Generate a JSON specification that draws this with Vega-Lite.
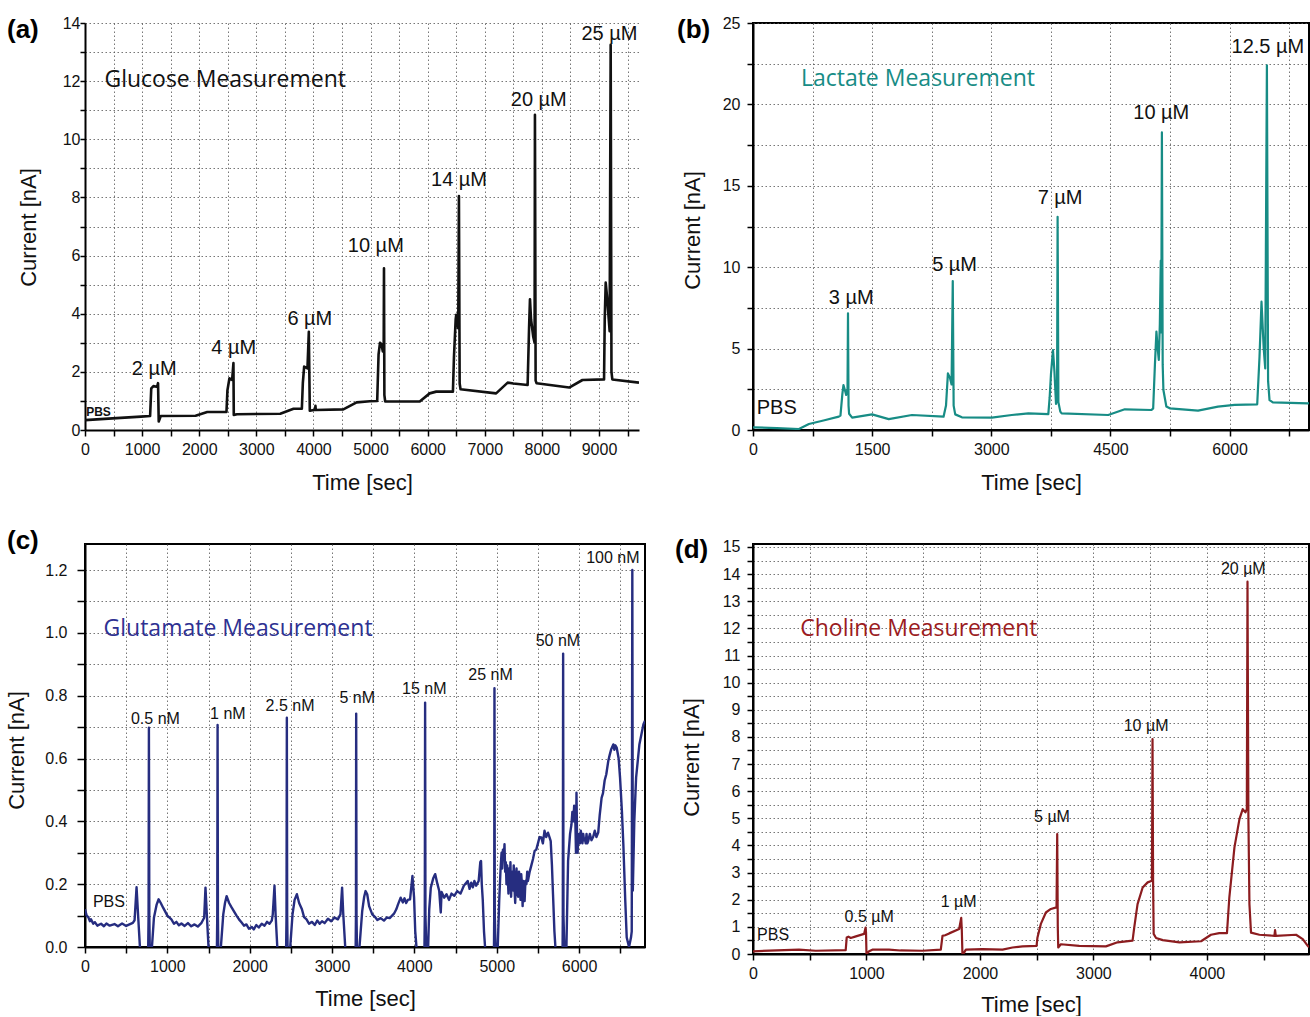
{
 "$schema": "https://vega.github.io/schema/vega-lite/v6.json",
 "padding": {"left": 4, "top": 14, "right": 0, "bottom": 0},
 "background": "#ffffff",
 "columns": 2,
 "bounds": "flush",
 "align": "all",
 "spacing": {"row": 111, "column": 108},
 "datasets": {
  "glucose": [
   {"t":0,"v":0.34},{"t":480,"v":0.40},{"t":980,"v":0.46},{"t":1140,"v":0.48},{"t":1160,"v":1.43},{"t":1198,"v":1.51},{"t":1256,"v":1.49},{"t":1270,"v":1.55},{"t":1279,"v":1.61},{"t":1291,"v":0.29},{"t":1326,"v":0.48},{"t":1936,"v":0.49},{"t":2140,"v":0.62},{"t":2477,"v":0.62},{"t":2494,"v":1.37},{"t":2529,"v":1.78},{"t":2576,"v":1.72},{"t":2599,"v":2.30},{"t":2605,"v":0.52},{"t":2663,"v":0.54},{"t":3419,"v":0.56},{"t":3651,"v":0.73},{"t":3797,"v":0.73},{"t":3814,"v":1.61},{"t":3837,"v":2.18},{"t":3895,"v":2.12},{"t":3919,"v":3.38},{"t":3936,"v":0.66},{"t":4030,"v":0.70},{"t":4035,"v":0.83},{"t":4040,"v":0.69},{"t":4523,"v":0.71},{"t":4756,"v":0.95},{"t":4988,"v":0.99},{"t":5116,"v":1.0},{"t":5140,"v":2.6},{"t":5165,"v":3.0},{"t":5190,"v":2.95},{"t":5215,"v":2.7},{"t":5230,"v":2.9},{"t":5235,"v":5.56},{"t":5242,"v":1.2},{"t":5256,"v":0.98},{"t":5861,"v":0.98},{"t":6035,"v":1.26},{"t":6150,"v":1.32},{"t":6442,"v":1.32},{"t":6460,"v":2.5},{"t":6490,"v":3.8},{"t":6500,"v":3.96},{"t":6520,"v":3.7},{"t":6535,"v":3.5},{"t":6547,"v":8.05},{"t":6560,"v":1.6},{"t":6575,"v":1.40},{"t":7198,"v":1.26},{"t":7401,"v":1.63},{"t":7500,"v":1.6},{"t":7750,"v":1.55},{"t":7775,"v":3.5},{"t":7791,"v":4.5},{"t":7810,"v":3.8},{"t":7849,"v":3.2},{"t":7872,"v":3.0},{"t":7878,"v":10.84},{"t":7890,"v":1.7},{"t":7907,"v":1.61},{"t":8477,"v":1.46},{"t":8710,"v":1.72},{"t":9088,"v":1.74},{"t":9100,"v":3.8},{"t":9117,"v":5.07},{"t":9140,"v":4.6},{"t":9186,"v":3.4},{"t":9204,"v":13.25},{"t":9218,"v":2.0},{"t":9233,"v":1.74},{"t":9700,"v":1.63}
  ],
  "glucoseLabels": [
   {"label":"2 µM","t":1212,"v":1.89},{"label":"4 µM","t":2605,"v":2.62},{"label":"6 µM","t":3937,"v":3.61},{"label":"10 µM","t":5092,"v":6.14},{"label":"14 µM","t":6549,"v":8.4},{"label":"20 µM","t":7945,"v":11.15},{"label":"25 µM","t":9183,"v":13.4}
  ],
  "glucosePBS": [{"label":"PBS","t":236,"v":0.48}],
  "glucoseName": [{"label":"Glucose Measurement","t":340,"v":11.8}],
  "lactate": [
   {"t":0,"v":0.16},{"t":300,"v":0.12},{"t":578,"v":0.06},{"t":704,"v":0.37},{"t":900,"v":0.6},{"t":1080,"v":0.82},{"t":1101,"v":0.88},{"t":1125,"v":2.2},{"t":1139,"v":2.76},{"t":1160,"v":2.4},{"t":1173,"v":2.15},{"t":1190,"v":2.5},{"t":1196,"v":7.17},{"t":1203,"v":1.5},{"t":1210,"v":1.0},{"t":1248,"v":0.76},{"t":1499,"v":0.96},{"t":1709,"v":0.67},{"t":2001,"v":0.92},{"t":2399,"v":0.82},{"t":2430,"v":1.5},{"t":2454,"v":3.48},{"t":2480,"v":3.2},{"t":2500,"v":2.8},{"t":2515,"v":9.15},{"t":2526,"v":1.5},{"t":2546,"v":0.96},{"t":2630,"v":0.78},{"t":3007,"v":0.76},{"t":3258,"v":0.92},{"t":3467,"v":1.02},{"t":3718,"v":0.98},{"t":3735,"v":2.0},{"t":3752,"v":3.48},{"t":3777,"v":4.91},{"t":3795,"v":3.6},{"t":3815,"v":1.6},{"t":3828,"v":2.0},{"t":3835,"v":13.1},{"t":3845,"v":1.7},{"t":3869,"v":1.13},{"t":3886,"v":1.02},{"t":4472,"v":0.92},{"t":4681,"v":1.27},{"t":5017,"v":1.23},{"t":5038,"v":1.33},{"t":5060,"v":4.0},{"t":5079,"v":6.04},{"t":5095,"v":5.0},{"t":5109,"v":4.3},{"t":5122,"v":6.5},{"t":5134,"v":10.4},{"t":5140,"v":6.0},{"t":5148,"v":18.28},{"t":5158,"v":4.0},{"t":5167,"v":2.46},{"t":5204,"v":1.44},{"t":5247,"v":1.33},{"t":5603,"v":1.19},{"t":5854,"v":1.44},{"t":6063,"v":1.54},{"t":6348,"v":1.58},{"t":6377,"v":4.5},{"t":6402,"v":7.88},{"t":6430,"v":5.0},{"t":6449,"v":3.78},{"t":6470,"v":22.4},{"t":6485,"v":3.0},{"t":6503,"v":1.84},{"t":6545,"v":1.7},{"t":6985,"v":1.64},{"t":7000,"v":1.65}
  ],
  "lactateLabels": [
   {"label":"3 µM","t":1236,"v":7.74},{"label":"5 µM","t":2538,"v":9.79},{"label":"7 µM","t":3866,"v":13.88},{"label":"10 µM","t":5140,"v":19.1},{"label":"12.5 µM","t":6482,"v":23.14},{"label":"PBS","t":299,"v":0.96}
  ],
  "lactateName": [{"label":"Lactate Measurement","t":603,"v":21.13}],
  "glutamate": [
   {"t":0,"v":0.12},{"t":20,"v":0.1},{"t":40,"v":0.095},{"t":60,"v":0.082},{"t":73,"v":0.088},{"t":100,"v":0.074},{"t":120,"v":0.079},{"t":150,"v":0.068},{"t":195,"v":0.074},{"t":230,"v":0.066},{"t":260,"v":0.075},{"t":300,"v":0.068},{"t":358,"v":0.073},{"t":400,"v":0.066},{"t":450,"v":0.075},{"t":500,"v":0.067},{"t":540,"v":0.072},{"t":581,"v":0.077},{"t":602,"v":0.085},{"t":626,"v":0.19},{"t":645,"v":0.1},{"t":667,"v":0.0},{"t":690,"v":-0.05},{"t":765,"v":-0.05},{"t":772,"v":0.1},{"t":776,"v":0.698},{"t":781,"v":0.1},{"t":789,"v":-0.05},{"t":805,"v":-0.02},{"t":813,"v":0.0},{"t":837,"v":0.093},{"t":870,"v":0.135},{"t":894,"v":0.152},{"t":920,"v":0.14},{"t":947,"v":0.126},{"t":1000,"v":0.1},{"t":1049,"v":0.088},{"t":1080,"v":0.074},{"t":1110,"v":0.08},{"t":1140,"v":0.069},{"t":1171,"v":0.075},{"t":1210,"v":0.067},{"t":1250,"v":0.076},{"t":1290,"v":0.066},{"t":1330,"v":0.072},{"t":1370,"v":0.065},{"t":1415,"v":0.077},{"t":1447,"v":0.093},{"t":1463,"v":0.189},{"t":1480,"v":0.1},{"t":1500,"v":0.0},{"t":1520,"v":-0.05},{"t":1600,"v":-0.05},{"t":1606,"v":0.1},{"t":1610,"v":0.707},{"t":1614,"v":0.1},{"t":1620,"v":-0.05},{"t":1640,"v":-0.02},{"t":1650,"v":0.0},{"t":1679,"v":0.104},{"t":1700,"v":0.14},{"t":1720,"v":0.162},{"t":1750,"v":0.14},{"t":1780,"v":0.126},{"t":1840,"v":0.1},{"t":1870,"v":0.088},{"t":1902,"v":0.078},{"t":1930,"v":0.068},{"t":1960,"v":0.072},{"t":1990,"v":0.058},{"t":2024,"v":0.064},{"t":2050,"v":0.056},{"t":2080,"v":0.07},{"t":2110,"v":0.062},{"t":2146,"v":0.074},{"t":2180,"v":0.068},{"t":2210,"v":0.08},{"t":2240,"v":0.074},{"t":2268,"v":0.084},{"t":2280,"v":0.104},{"t":2301,"v":0.195},{"t":2315,"v":0.1},{"t":2335,"v":0.0},{"t":2350,"v":-0.05},{"t":2440,"v":-0.05},{"t":2447,"v":0.1},{"t":2451,"v":0.73},{"t":2455,"v":0.1},{"t":2462,"v":-0.05},{"t":2485,"v":-0.02},{"t":2492,"v":0.0},{"t":2520,"v":0.104},{"t":2545,"v":0.15},{"t":2573,"v":0.168},{"t":2600,"v":0.14},{"t":2634,"v":0.12},{"t":2660,"v":0.095},{"t":2690,"v":0.088},{"t":2720,"v":0.074},{"t":2756,"v":0.08},{"t":2790,"v":0.07},{"t":2820,"v":0.084},{"t":2850,"v":0.074},{"t":2878,"v":0.082},{"t":2910,"v":0.076},{"t":2950,"v":0.09},{"t":2990,"v":0.082},{"t":3030,"v":0.094},{"t":3070,"v":0.088},{"t":3102,"v":0.104},{"t":3122,"v":0.189},{"t":3135,"v":0.11},{"t":3160,"v":0.0},{"t":3175,"v":-0.05},{"t":3285,"v":-0.05},{"t":3290,"v":0.1},{"t":3293,"v":0.743},{"t":3297,"v":0.1},{"t":3305,"v":-0.05},{"t":3325,"v":-0.02},{"t":3333,"v":0.0},{"t":3366,"v":0.114},{"t":3390,"v":0.16},{"t":3407,"v":0.178},{"t":3427,"v":0.168},{"t":3450,"v":0.13},{"t":3488,"v":0.104},{"t":3520,"v":0.096},{"t":3550,"v":0.086},{"t":3590,"v":0.092},{"t":3630,"v":0.084},{"t":3665,"v":0.094},{"t":3700,"v":0.092},{"t":3752,"v":0.106},{"t":3780,"v":0.12},{"t":3800,"v":0.135},{"t":3833,"v":0.157},{"t":3860,"v":0.142},{"t":3880,"v":0.155},{"t":3900,"v":0.14},{"t":3920,"v":0.15},{"t":3947,"v":0.152},{"t":3976,"v":0.226},{"t":3996,"v":0.157},{"t":4010,"v":0.05},{"t":4025,"v":0.0},{"t":4040,"v":-0.05},{"t":4120,"v":-0.05},{"t":4126,"v":0.1},{"t":4130,"v":0.778},{"t":4134,"v":0.1},{"t":4150,"v":-0.05},{"t":4160,"v":-0.02},{"t":4167,"v":0.0},{"t":4180,"v":0.12},{"t":4199,"v":0.189},{"t":4230,"v":0.22},{"t":4252,"v":0.232},{"t":4280,"v":0.2},{"t":4301,"v":0.179},{"t":4320,"v":0.11},{"t":4330,"v":0.175},{"t":4362,"v":0.157},{"t":4390,"v":0.168},{"t":4420,"v":0.15},{"t":4450,"v":0.17},{"t":4484,"v":0.163},{"t":4520,"v":0.178},{"t":4560,"v":0.17},{"t":4600,"v":0.195},{"t":4647,"v":0.21},{"t":4670,"v":0.185},{"t":4690,"v":0.205},{"t":4710,"v":0.19},{"t":4728,"v":0.21},{"t":4750,"v":0.195},{"t":4780,"v":0.21},{"t":4800,"v":0.27},{"t":4809,"v":0.274},{"t":4818,"v":0.2},{"t":4830,"v":0.15},{"t":4845,"v":0.05},{"t":4858,"v":0.0},{"t":4870,"v":-0.05},{"t":4965,"v":-0.05},{"t":4969,"v":0.1},{"t":4972,"v":0.824},{"t":4976,"v":0.1},{"t":4990,"v":-0.05},{"t":5005,"v":-0.02},{"t":5012,"v":0.0},{"t":5030,"v":0.15},{"t":5045,"v":0.242},{"t":5058,"v":0.3},{"t":5066,"v":0.25},{"t":5075,"v":0.31},{"t":5085,"v":0.28},{"t":5094,"v":0.327},{"t":5102,"v":0.24},{"t":5110,"v":0.27},{"t":5118,"v":0.2},{"t":5126,"v":0.26},{"t":5134,"v":0.222},{"t":5142,"v":0.17},{"t":5150,"v":0.25},{"t":5158,"v":0.19},{"t":5166,"v":0.27},{"t":5174,"v":0.16},{"t":5182,"v":0.23},{"t":5190,"v":0.24},{"t":5198,"v":0.18},{"t":5206,"v":0.26},{"t":5215,"v":0.189},{"t":5224,"v":0.14},{"t":5232,"v":0.22},{"t":5240,"v":0.25},{"t":5250,"v":0.17},{"t":5260,"v":0.16},{"t":5270,"v":0.24},{"t":5280,"v":0.22},{"t":5288,"v":0.15},{"t":5297,"v":0.232},{"t":5306,"v":0.2},{"t":5314,"v":0.13},{"t":5322,"v":0.21},{"t":5330,"v":0.19},{"t":5338,"v":0.146},{"t":5348,"v":0.21},{"t":5360,"v":0.2},{"t":5370,"v":0.24},{"t":5378,"v":0.21},{"t":5400,"v":0.24},{"t":5420,"v":0.26},{"t":5440,"v":0.28},{"t":5460,"v":0.306},{"t":5480,"v":0.31},{"t":5500,"v":0.33},{"t":5520,"v":0.35},{"t":5541,"v":0.349},{"t":5560,"v":0.33},{"t":5580,"v":0.37},{"t":5600,"v":0.35},{"t":5622,"v":0.364},{"t":5640,"v":0.35},{"t":5655,"v":0.337},{"t":5670,"v":0.26},{"t":5683,"v":0.168},{"t":5700,"v":0.05},{"t":5712,"v":0.0},{"t":5730,"v":-0.05},{"t":5798,"v":-0.05},{"t":5802,"v":0.1},{"t":5806,"v":0.934},{"t":5810,"v":0.1},{"t":5825,"v":-0.05},{"t":5840,"v":-0.02},{"t":5846,"v":0.0},{"t":5866,"v":0.274},{"t":5890,"v":0.36},{"t":5907,"v":0.39},{"t":5918,"v":0.43},{"t":5930,"v":0.40},{"t":5940,"v":0.45},{"t":5947,"v":0.433},{"t":5955,"v":0.39},{"t":5962,"v":0.3},{"t":5968,"v":0.491},{"t":5975,"v":0.35},{"t":5982,"v":0.3},{"t":5988,"v":0.337},{"t":6000,"v":0.36},{"t":6010,"v":0.33},{"t":6020,"v":0.37},{"t":6029,"v":0.358},{"t":6040,"v":0.33},{"t":6050,"v":0.36},{"t":6060,"v":0.34},{"t":6070,"v":0.345},{"t":6080,"v":0.33},{"t":6090,"v":0.36},{"t":6100,"v":0.33},{"t":6110,"v":0.337},{"t":6130,"v":0.36},{"t":6150,"v":0.34},{"t":6170,"v":0.35},{"t":6190,"v":0.37},{"t":6210,"v":0.35},{"t":6232,"v":0.364},{"t":6250,"v":0.42},{"t":6273,"v":0.475},{"t":6290,"v":0.49},{"t":6310,"v":0.53},{"t":6330,"v":0.55},{"t":6354,"v":0.592},{"t":6370,"v":0.61},{"t":6390,"v":0.63},{"t":6415,"v":0.645},{"t":6428,"v":0.628},{"t":6440,"v":0.642},{"t":6456,"v":0.635},{"t":6480,"v":0.6},{"t":6497,"v":0.539},{"t":6520,"v":0.43},{"t":6537,"v":0.327},{"t":6560,"v":0.15},{"t":6578,"v":0.03},{"t":6606,"v":0.0},{"t":6630,"v":0.03},{"t":6639,"v":0.05},{"t":6646,"v":1.2},{"t":6652,"v":0.18},{"t":6670,"v":0.4},{"t":6692,"v":0.539},{"t":6732,"v":0.645},{"t":6781,"v":0.709},{"t":6800,"v":0.72}
  ],
  "glutamateLabels": [
   {"label":"0.5 nM","t":855,"v":0.709},{"label":"1 nM","t":1735,"v":0.727},{"label":"2.5 nM","t":2490,"v":0.752},{"label":"5 nM","t":3305,"v":0.778},{"label":"15 nM","t":4120,"v":0.807},{"label":"25 nM","t":4925,"v":0.849},{"label":"50 nM","t":5742,"v":0.958},{"label":"100 nM","t":6410,"v":1.221},{"label":"PBS","t":290,"v":0.127}
  ],
  "glutamateName": [{"label":"Glutamate Measurement","t":225,"v":0.99}],
  "choline": [
   {"t":0,"v":0.1},{"t":406,"v":0.16},{"t":553,"v":0.12},{"t":817,"v":0.14},{"t":826,"v":0.61},{"t":841,"v":0.64},{"t":861,"v":0.59},{"t":900,"v":0.64},{"t":979,"v":0.74},{"t":992,"v":0.97},{"t":996,"v":0.8},{"t":1000,"v":0.0},{"t":1023,"v":0.1},{"t":1052,"v":0.16},{"t":1199,"v":0.16},{"t":1300,"v":0.13},{"t":1493,"v":0.12},{"t":1655,"v":0.16},{"t":1670,"v":0.67},{"t":1693,"v":0.69},{"t":1729,"v":0.76},{"t":1817,"v":0.92},{"t":1835,"v":1.33},{"t":1840,"v":0.9},{"t":1846,"v":-0.05},{"t":1860,"v":0.05},{"t":1876,"v":0.16},{"t":2023,"v":0.18},{"t":2199,"v":0.16},{"t":2287,"v":0.24},{"t":2376,"v":0.28},{"t":2499,"v":0.3},{"t":2507,"v":0.61},{"t":2537,"v":1.11},{"t":2581,"v":1.53},{"t":2625,"v":1.66},{"t":2675,"v":1.72},{"t":2681,"v":4.42},{"t":2686,"v":1.0},{"t":2690,"v":0.24},{"t":2713,"v":0.36},{"t":2875,"v":0.30},{"t":3110,"v":0.28},{"t":3213,"v":0.43},{"t":3345,"v":0.49},{"t":3360,"v":0.98},{"t":3389,"v":1.84},{"t":3434,"v":2.45},{"t":3478,"v":2.64},{"t":3516,"v":2.7},{"t":3521,"v":7.92},{"t":3526,"v":2.7},{"t":3531,"v":0.74},{"t":3552,"v":0.59},{"t":3611,"v":0.51},{"t":3758,"v":0.43},{"t":3949,"v":0.47},{"t":4036,"v":0.71},{"t":4109,"v":0.77},{"t":4177,"v":0.77},{"t":4198,"v":2.09},{"t":4243,"v":3.93},{"t":4287,"v":4.97},{"t":4316,"v":5.34},{"t":4340,"v":5.22},{"t":4352,"v":5.34},{"t":4358,"v":13.72},{"t":4366,"v":5.0},{"t":4375,"v":1.84},{"t":4389,"v":0.79},{"t":4463,"v":0.71},{"t":4595,"v":0.67},{"t":4601,"v":0.88},{"t":4607,"v":0.67},{"t":4786,"v":0.71},{"t":4845,"v":0.55},{"t":4889,"v":0.3},{"t":4900,"v":0.25}
  ],
  "cholineLabels": [
   {"label":"0.5 µM","t":1024,"v":1.19},{"label":"1 µM","t":1812,"v":1.72},{"label":"5 µM","t":2635,"v":4.85},{"label":"10 µM","t":3464,"v":8.23},{"label":"20 µM","t":4321,"v":14.0},{"label":"PBS","t":177,"v":0.53}
  ],
  "cholineName": [{"label":"Choline Measurement","t":416,"v":11.73}]
 },
 "concat": [
  {
   "width": 554, "height": 407,
   "view": {"stroke": null},
   "title": {"text": "(a)", "dx": -78, "dy": 31.5},
   "encoding": {
    "x": {"field": "t", "type": "quantitative", "scale": {"domain": [0, 9700], "nice": false, "zero": false},
     "axis": {"values": [0,500,1000,1500,2000,2500,3000,3500,4000,4500,5000,5500,6000,6500,7000,7500,8000,8500,9000,9500], "labelExpr": "datum.value % 1000 === 0 ? datum.label : ''", "format": "d", "title": "Time [sec]"}},
    "y": {"field": "v", "type": "quantitative", "scale": {"domain": [0, 14], "nice": false},
     "axis": {"values": [0,1,2,3,4,5,6,7,8,9,10,11,12,13,14], "labelExpr": "datum.value % 2 === 0 ? datum.label : ''", "title": "Current [nA]", "titleX": -45, "titleY": 204, "tickSize": 5, "labelPadding": 0}}
   },
   "layer": [
    {"data": {"name": "glucose"}, "mark": {"type": "line", "color": "#111111", "strokeWidth": 2.6, "strokeJoin": "round", "clip": true}},
    {"data": {"name": "glucoseLabels"}, "mark": {"type": "text", "fontSize": 20, "align": "center", "baseline": "alphabetic", "font": "Liberation Sans", "color": "#111111"}, "encoding": {"text": {"field": "label"}}},
    {"data": {"name": "glucosePBS"}, "mark": {"type": "text", "fontSize": 12, "fontWeight": "bold", "align": "center", "baseline": "alphabetic", "font": "Liberation Sans", "color": "#111111"}, "encoding": {"text": {"field": "label"}}},
    {"data": {"name": "glucoseName"}, "mark": {"type": "text", "fontSize": 23, "align": "left", "baseline": "alphabetic", "font": "Open Sans", "color": "#111111"}, "encoding": {"text": {"field": "label"}}}
   ]
  },
  {
   "width": 556, "height": 407,
   "title": {"text": "(b)", "dx": -76, "dy": 31.5},
   "encoding": {
    "x": {"field": "t", "type": "quantitative", "scale": {"domain": [0, 7000], "nice": false, "zero": false},
     "axis": {"values": [0,750,1500,2250,3000,3750,4500,5250,6000,6750], "labelExpr": "datum.value % 1500 === 0 ? datum.label : ''", "format": "d", "title": "Time [sec]", "titleY": 59.5}},
    "y": {"field": "v", "type": "quantitative", "scale": {"domain": [0, 25], "nice": false},
     "axis": {"values": [0,2.5,5,7.5,10,12.5,15,17.5,20,22.5,25], "labelExpr": "datum.value % 5 === 0 ? datum.label : ''", "title": "Current [nA]", "titleX": -48.5, "titleY": 207, "tickSize": 6, "labelPadding": 7}}
   },
   "layer": [
    {"data": {"name": "lactate"}, "mark": {"type": "line", "color": "#178c85", "strokeWidth": 2.2, "strokeJoin": "round", "clip": true}},
    {"data": {"name": "lactateLabels"}, "mark": {"type": "text", "fontSize": 20, "align": "center", "baseline": "alphabetic", "font": "Liberation Sans", "color": "#111111"}, "encoding": {"text": {"field": "label"}}},
    {"data": {"name": "lactateName"}, "mark": {"type": "text", "fontSize": 23, "align": "left", "baseline": "alphabetic", "font": "Open Sans", "color": "#178c85"}, "encoding": {"text": {"field": "label"}}}
   ]
  },
  {
   "width": 560, "height": 403,
   "title": {"text": "(c)", "dx": -78, "dy": 14},
   "encoding": {
    "x": {"field": "t", "type": "quantitative", "scale": {"domain": [0, 6800], "nice": false, "zero": false},
     "axis": {"values": [0,500,1000,1500,2000,2500,3000,3500,4000,4500,5000,5500,6000,6500], "labelExpr": "datum.value % 1000 === 0 ? datum.label : ''", "format": "d", "title": "Time [sec]", "titleY": 58.5}},
    "y": {"field": "v", "type": "quantitative", "scale": {"domain": [0, 1.283], "nice": false},
     "axis": {"values": [0,0.1,0.2,0.3,0.4,0.5,0.6,0.7,0.8,0.9,1.0,1.1,1.2], "labelExpr": "round(datum.value*10) % 2 === 0 ? format(datum.value, '.1f') : ''", "title": "Current [nA]", "titleX": -56.5, "titleY": 206, "tickSize": 8, "labelPadding": 10}}
   },
   "layer": [
    {"data": {"name": "glutamate"}, "mark": {"type": "line", "color": "#262d80", "strokeWidth": 2.4, "strokeJoin": "round", "clip": true}},
    {"data": {"name": "glutamateLabels"}, "mark": {"type": "text", "fontSize": 16, "align": "center", "baseline": "alphabetic", "font": "Liberation Sans", "color": "#111111"}, "encoding": {"text": {"field": "label"}}},
    {"data": {"name": "glutamateName"}, "mark": {"type": "text", "fontSize": 23, "align": "left", "baseline": "alphabetic", "font": "Open Sans", "color": "#2e3192"}, "encoding": {"text": {"field": "label"}}}
   ]
  },
  {
   "width": 556, "height": 410,
   "title": {"text": "(d)", "dx": -78, "dy": 28},
   "encoding": {
    "x": {"field": "t", "type": "quantitative", "scale": {"domain": [0, 4900], "nice": false, "zero": false},
     "axis": {"values": [0,500,1000,1500,2000,2500,3000,3500,4000,4500], "labelExpr": "datum.value % 1000 === 0 ? datum.label : ''", "format": "d", "title": "Time [sec]", "titleY": 57}},
    "y": {"field": "v", "type": "quantitative", "scale": {"domain": [0, 15.11], "nice": false},
     "axis": {"values": [0,0.5,1,1.5,2,2.5,3,3.5,4,4.5,5,5.5,6,6.5,7,7.5,8,8.5,9,9.5,10,10.5,11,11.5,12,12.5,13,13.5,14,14.5,15], "labelExpr": "datum.value % 1 === 0 ? format(datum.value, 'd') : ''", "title": "Current [nA]", "titleX": -49.5, "titleY": 213, "tickSize": 6, "labelPadding": 7}}
   },
   "layer": [
    {"data": {"name": "choline"}, "mark": {"type": "line", "color": "#8c1c1f", "strokeWidth": 2.2, "strokeJoin": "round", "clip": true}},
    {"data": {"name": "cholineLabels"}, "mark": {"type": "text", "fontSize": 16, "align": "center", "baseline": "alphabetic", "font": "Liberation Sans", "color": "#111111"}, "encoding": {"text": {"field": "label"}}},
    {"data": {"name": "cholineName"}, "mark": {"type": "text", "fontSize": 23, "align": "left", "baseline": "alphabetic", "font": "Open Sans", "color": "#9b1c1f"}, "encoding": {"text": {"field": "label"}}}
   ]
  }
 ],
 "config": {
  "font": "Liberation Sans",
  "view": {"stroke": "#000000", "strokeWidth": 2},
  "axis": {"domainColor": "#000000", "domainWidth": 2, "tickColor": "#000000", "tickWidth": 1.5, "tickSize": 6, "labelFontSize": 16, "labelColor": "#111111", "labelFont": "Liberation Sans", "titleFont": "Liberation Sans", "titleFontSize": 22, "titleFontWeight": "normal", "titleColor": "#111111", "gridColor": "#555555", "gridDash": [1.5, 2.5], "gridWidth": 1, "gridOpacity": 0.8, "labelFlush": false, "labelOverlap": false, "labelBound": false},
  "axisX": {"labelPadding": 5, "titleY": 59, "titleBaseline": "alphabetic"},
  "axisY": {"titleAngle": 270, "titleBaseline": "bottom", "titleAlign": "center"},
  "title": {"font": "Liberation Sans", "fontSize": 26, "fontWeight": "bold", "color": "#000000", "anchor": "start", "frame": "group", "offset": 0, "baseline": "alphabetic"}
 }
}
